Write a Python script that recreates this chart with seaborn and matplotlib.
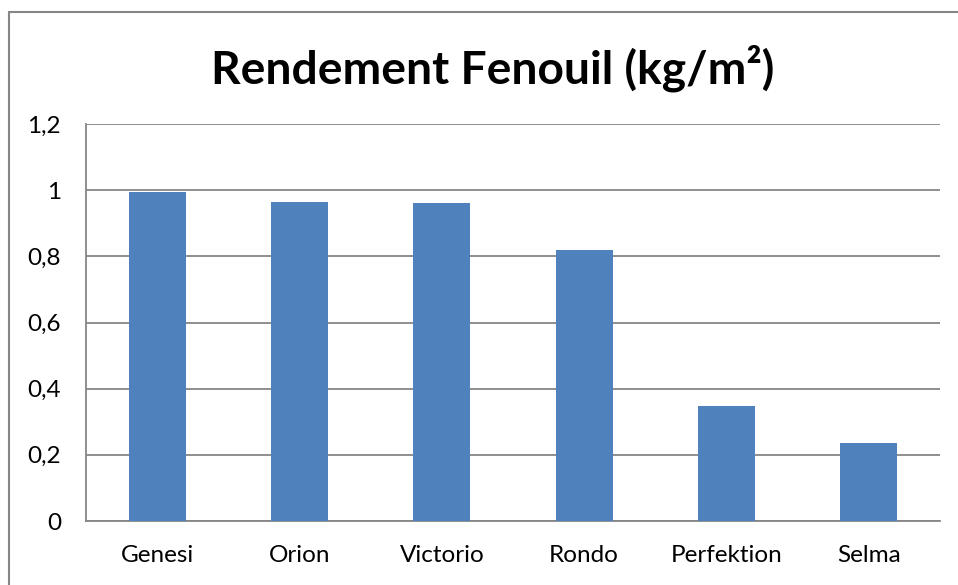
import matplotlib.pyplot as plt
import seaborn as sns
import pandas as pd
from matplotlib.ticker import FuncFormatter

varietes = ['Genesi', 'Orion', 'Victorio', 'Rondo', 'Perfektion', 'Selma']
rendement = [0.995, 0.965, 0.962, 0.819, 0.348, 0.236]
yticks = [0, 0.2, 0.4, 0.6, 0.8, 1, 1.2]

df = pd.DataFrame({'variete': varietes, 'rendement': rendement})

sns.set_style('white')
plt.rcParams['font.family'] = ['Lato', 'DejaVu Sans']

fig = plt.figure(figsize=(9.58, 5.85), dpi=100)
ax = fig.add_axes([86 / 958, 64 / 585, 854 / 958, 397 / 585])

sns.barplot(data=df, x='variete', y='rendement', color='#4F81BD', width=0.4,
            saturation=1, linewidth=0, ax=ax, zorder=3)

ax.set_ylim(0, 1.2)
ax.set_xlim(-0.5, 5.5)
ax.set_yticks(yticks)
ax.yaxis.set_major_formatter(FuncFormatter(lambda v, p: f'{v:g}'.replace('.', ',')))
ax.grid(axis='y', color='#868686', linewidth=1.3, zorder=0)
ax.set_xlabel('')
ax.set_ylabel('')
ax.tick_params(axis='both', length=0, labelsize=17.5, colors='black')
ax.tick_params(axis='x', pad=17)
ax.tick_params(axis='y', pad=18)
for s in ['top', 'right']:
    ax.spines[s].set_visible(False)
for s in ['left', 'bottom']:
    ax.spines[s].set_color('#868686')
    ax.spines[s].set_linewidth(1.3)

fig.text(493 / 958, 1 - 68 / 585, 'Rendement Fenouil (kg/m²)', ha='center', va='center',
         fontsize=33.2, fontweight='bold', color='black')

# outer chart border
fig.add_artist(plt.Line2D([9 / 958, 9 / 958], [0, 1 - 12 / 585], transform=fig.transFigure,
                          color='#868686', linewidth=1.5))
fig.add_artist(plt.Line2D([9 / 958, 1], [1 - 12 / 585, 1 - 12 / 585], transform=fig.transFigure,
                          color='#868686', linewidth=1.5))

fig.savefig('out.png', dpi=100)
